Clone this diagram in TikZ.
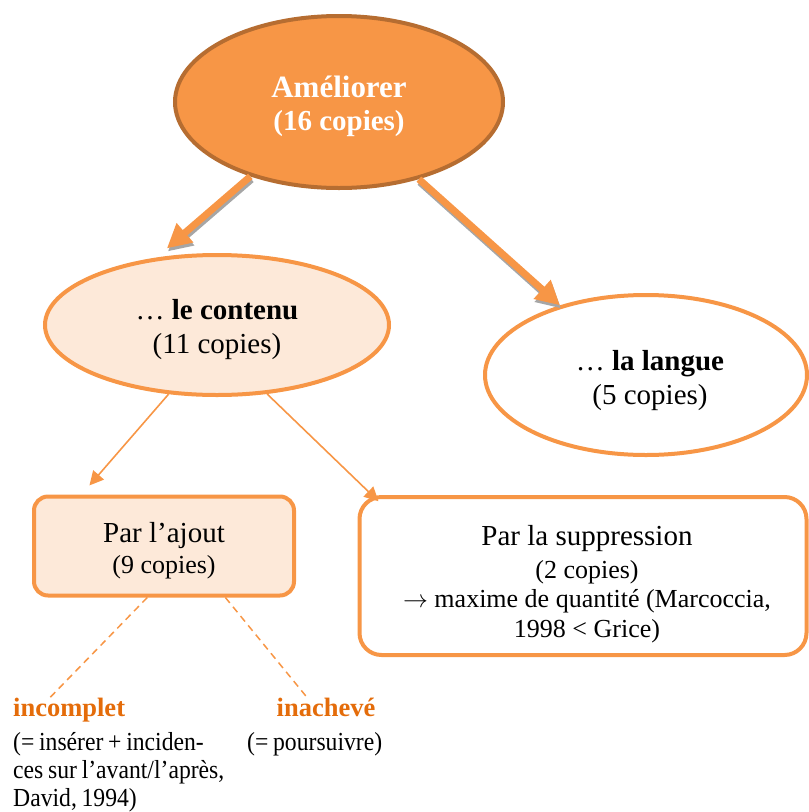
\documentclass[tikz,border=0pt]{standalone}
\usepackage{fontspec}
\setmainfont{Liberation Serif}
\newfontfamily\condfont{Liberation Serif}[FakeStretch=0.91,WordSpace=0.8]
\usetikzlibrary{shapes.geometric,arrows.meta}
\definecolor{orfill}{HTML}{F79646}
\definecolor{orborder}{HTML}{B66D31}
\definecolor{orlight}{HTML}{FDE9D9}
\definecolor{ortext}{HTML}{E46C0A}
\definecolor{shadowgray}{HTML}{A6A6A6}
\tikzset{
 ell/.style={ellipse, draw=orfill, line width=4pt, inner sep=0pt},
 rbox/.style={rectangle, draw=orfill, line width=4pt, inner sep=0pt},
 intext/.style={inner sep=0pt, align=center, anchor=base},
 bigarrow/.style={draw=orfill, line width=7pt, -{Triangle[length=24pt,width=24pt]}},
 bigshadow/.style={draw=shadowgray, line width=7pt, -{Triangle[length=24pt,width=24pt]}, transform canvas={xshift=1pt,yshift=-3pt}},
 thinarrow/.style={draw=orfill, line width=1.6pt, -{Triangle[length=14pt,width=14pt]}},
 dashline/.style={draw=orfill, line width=1.5pt, dash pattern=on 7pt off 5pt},
 bottomlabel/.style={inner sep=0pt, text=ortext, font=\bfseries\fontsize{26.5}{30}\selectfont},
 bottomdesc/.style={inner sep=0pt, align=left, font=\condfont\fontsize{26}{28}\selectfont},
}
\begin{document}
\begin{tikzpicture}[x=1pt,y=-1pt]
\useasboundingbox (0,0) rectangle (809,812);
% shapes
\node[ell, fill=orfill, draw=orborder, minimum width=328pt, minimum height=172pt] (top) at (339,102) {};
\node[ell, fill=orlight, minimum width=344pt, minimum height=140pt] (contenu) at (217,325) {};
\node[ell, fill=white, minimum width=322pt, minimum height=160pt] (langue) at (646,375) {};
\node[rbox, rounded corners=14pt, fill=orlight, minimum width=260pt, minimum height=99pt] (ajout) at (164,546) {};
\node[rbox, rounded corners=22pt, fill=white, minimum width=447pt, minimum height=158pt] (suppr) at (583,576) {};
% texts inside shapes (anchor base = baseline of last line)
\node[intext, text=white, font=\bfseries\fontsize{29}{33}\selectfont] (topT) at (339,130)
      {{\fontsize{31}{33}\selectfont Améliorer}\\(16 copies)};
\node[intext, font=\fontsize{29}{34}\selectfont] (contenuT) at (217,353)
      {… \textbf{le contenu}\\(11 copies)};
\node[intext, font=\fontsize{29}{34}\selectfont] (langueT) at (650,404)
      {… \textbf{la langue}\\(5 copies)};
\node[intext, font=\fontsize{26}{31}\selectfont] (ajoutT) at (164,573)
      {{\fontsize{29}{31}\selectfont Par l’ajout}\\(9 copies)};
\node[intext, font=\fontsize{26}{29.5}\selectfont] (supprT) at (587,637)
      {{\fontsize{29}{29.5}\selectfont Par la suppression}\\[3.5pt](2 copies)\\$\rightarrow$ maxime de quantité (Marcoccia,\\1998 < Grice)};
% bottom texts
\node[bottomlabel, anchor=base west] (incomplet) at (13,716) {incomplet};
\node[bottomlabel, anchor=base] (inacheve) at (326,716) {inachevé};
\node[bottomdesc, anchor=base west] (incdesc) at (13,806)
      {(= insérer + inciden-\\ces sur l’avant/l’après,\\David, 1994)};
\node[bottomdesc, anchor=base west] (inadesc) at (247,750) {(= poursuivre)};
% thick arrows with shadow
\draw[bigshadow, shorten >=14pt] (top.220.5) -- (contenu.132);
\draw[bigarrow, shorten >=14pt] (top.220.5) -- (contenu.132);
\draw[bigshadow] (top.316) -- (langue.141);
\draw[bigarrow] (top.316) -- (langue.141);
% thin arrows
\draw[thinarrow, shorten >=12pt] (contenu.235) -- (ajout.148);
\draw[thinarrow, shorten >=-9pt] (contenu.306) -- (suppr.159.7);
% dashed lines
\draw[dashline] (ajout.252) -- ([xshift=-19pt]incomplet.north);
\draw[dashline] (ajout.320) -- ([xshift=-19pt]inacheve.north);
\end{tikzpicture}
\end{document}
